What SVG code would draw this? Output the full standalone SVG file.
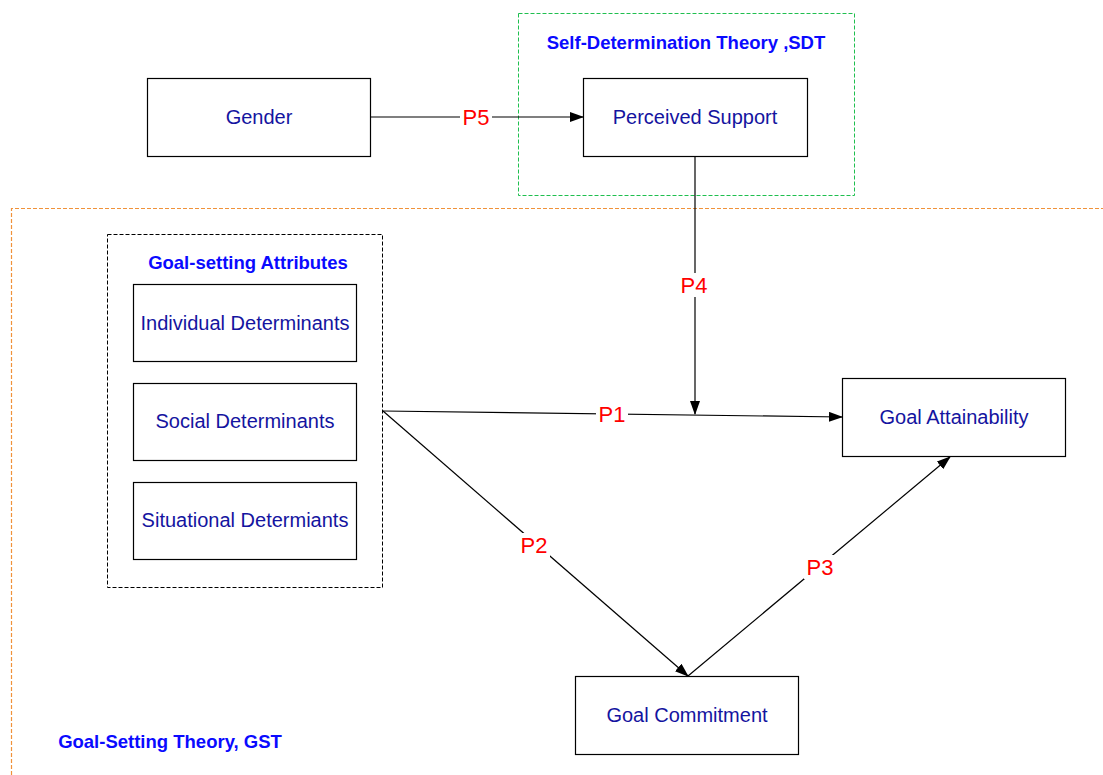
<svg xmlns="http://www.w3.org/2000/svg" width="1103" height="775" viewBox="0 0 1103 775">
<defs>
<marker id="ah" markerWidth="14" markerHeight="10" refX="13" refY="5" orient="auto" markerUnits="userSpaceOnUse">
<path d="M0,0 L14,5 L0,10 Z" fill="#000"/>
</marker>
<style>
.node{fill:#fff;stroke:#000;stroke-width:1.2}
.nt{font-family:"Liberation Sans",Arial,sans-serif;font-size:20px;fill:#1414a0;text-anchor:middle;dominant-baseline:central}
.tt{font-family:"Liberation Sans",Arial,sans-serif;font-size:18.5px;font-weight:bold;fill:#0a0aff;text-anchor:middle;dominant-baseline:central}
.lb{font-family:"Liberation Sans",Arial,sans-serif;font-size:22px;fill:#ff0000;text-anchor:middle;dominant-baseline:central}
.edge{stroke:#000;stroke-width:1.2;fill:none}
</style>
</defs>
<rect width="1103" height="775" fill="#fff"/>
<g id="gst">
<path d="M11.5,775 L11.5,208.5 L1103,208.5" fill="none" stroke="#f0923a" stroke-width="1.2" stroke-dasharray="4,2"/>
<text class="tt" x="170" y="741">Goal-Setting Theory, GST</text>
</g>
<g id="sdt">
<rect x="518.5" y="13.5" width="336" height="182" fill="none" stroke="#1fbf4f" stroke-width="1" stroke-dasharray="4,2"/>
<text class="tt" x="686" y="42">Self-Determination Theory ,SDT</text>
</g>
<g id="attributes">
<rect x="107.5" y="234.5" width="275" height="353" fill="none" stroke="#000" stroke-width="1" stroke-dasharray="4,2"/>
<text class="tt" x="248" y="262">Goal-setting Attributes</text>
</g>
<g id="connectors">
<line class="edge" x1="370" y1="117" x2="583" y2="117" marker-end="url(#ah)"/>
<line class="edge" x1="695" y1="156" x2="695" y2="414" marker-end="url(#ah)"/>
<line class="edge" x1="383" y1="411" x2="842" y2="417" marker-end="url(#ah)"/>
<line class="edge" x1="383" y1="411" x2="688" y2="676" marker-end="url(#ah)"/>
<line class="edge" x1="688" y1="676" x2="950" y2="457" marker-end="url(#ah)"/>
<rect x="460" y="105" width="32" height="24" fill="#fff"/>
<text class="lb" x="476" y="117">P5</text>
<rect x="678" y="273" width="32" height="24" fill="#fff"/>
<text class="lb" x="694" y="285">P4</text>
<rect x="596" y="402" width="32" height="24" fill="#fff"/>
<text class="lb" x="612" y="414">P1</text>
<rect x="518" y="533" width="32" height="24" fill="#fff"/>
<text class="lb" x="534" y="545">P2</text>
<rect x="804" y="555" width="32" height="24" fill="#fff"/>
<text class="lb" x="820" y="567">P3</text>
</g>
<g id="gender"><rect class="node" x="147.5" y="78.5" width="223" height="78"/><text class="nt" x="259" y="117">Gender</text></g>
<g id="perceived-support"><rect class="node" x="583.5" y="78.5" width="224" height="78"/><text class="nt" x="695" y="117">Perceived Support</text></g>
<g id="individual"><rect class="node" x="133.5" y="284.5" width="223" height="77"/><text class="nt" x="245" y="323">Individual Determinants</text></g>
<g id="social"><rect class="node" x="133.5" y="383.5" width="223" height="77"/><text class="nt" x="245" y="421">Social Determinants</text></g>
<g id="situational"><rect class="node" x="133.5" y="482.5" width="223" height="77"/><text class="nt" x="245" y="520">Situational Determiants</text></g>
<g id="goal-attainability"><rect class="node" x="842.5" y="378.5" width="223" height="78"/><text class="nt" x="954" y="417">Goal Attainability</text></g>
<g id="goal-commitment"><rect class="node" x="575.5" y="676.5" width="223" height="78"/><text class="nt" x="687" y="715">Goal Commitment</text></g>
</svg>
